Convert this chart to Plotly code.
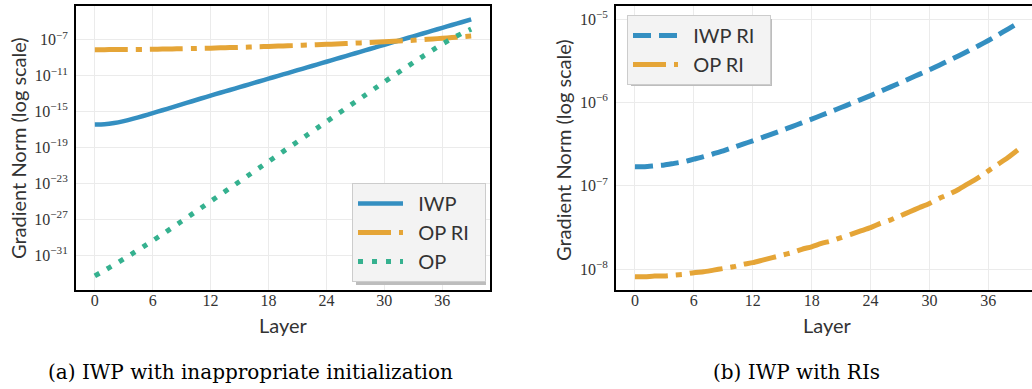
import plotly.graph_objects as go

# Layer index (0 .. 39)
layers = list(range(40))

# Gradient norms, stored as log10 values read per layer
iwp_log10 = [
    -16.44, -16.41, -16.28, -16.06, -15.79, -15.49, -15.17, -14.85, -14.52, -14.19,
    -13.87, -13.54, -13.22, -12.90, -12.59, -12.27, -11.96, -11.64, -11.33, -11.01,
    -10.70, -10.38, -10.07, -9.75, -9.44, -9.12, -8.81, -8.49, -8.18, -7.86,
    -7.55, -7.23, -6.92, -6.60, -6.29, -5.97, -5.66, -5.34, -5.03, -4.71,
]
op_ri_log10 = [
    -8.09, -8.09, -8.08, -8.08, -8.07, -8.06, -8.04, -8.03, -8.01, -7.99,
    -7.97, -7.94, -7.92, -7.89, -7.86, -7.83, -7.80, -7.76, -7.73, -7.69,
    -7.66, -7.62, -7.58, -7.54, -7.50, -7.45, -7.41, -7.36, -7.31, -7.26,
    -7.21, -7.15, -7.10, -7.04, -6.97, -6.90, -6.82, -6.74, -6.66, -6.57,
]
op_log10 = [
    -33.33, -32.72, -32.09, -31.44, -30.77, -30.09, -29.40, -28.69, -27.96, -27.23,
    -26.49, -25.75, -25.01, -24.27, -23.53, -22.79, -22.05, -21.31, -20.57, -19.83,
    -19.09, -18.35, -17.61, -16.87, -16.13, -15.39, -14.65, -13.91, -13.17, -12.43,
    -11.69, -10.96, -10.24, -9.53, -8.83, -8.14, -7.47, -6.85, -6.30, -5.80,
]
iwp_ri_log10 = [
    -6.77, -6.77, -6.76, -6.75, -6.73, -6.71, -6.68, -6.65, -6.615, -6.58,
    -6.54, -6.50, -6.46, -6.418, -6.376, -6.333, -6.289, -6.245, -6.20, -6.154,
    -6.108, -6.061, -6.014, -5.966, -5.918, -5.867, -5.816, -5.765, -5.713, -5.661,
    -5.608, -5.553, -5.497, -5.44, -5.381, -5.32, -5.257, -5.19, -5.12, -5.05,
]

iwp = [10 ** v for v in iwp_log10]
op_ri = [10 ** v for v in op_ri_log10]
op = [10 ** v for v in op_log10]
iwp_ri = [10 ** v for v in iwp_ri_log10]

# Tick labels
x_ticks = [0, 6, 12, 18, 24, 30, 36]
left_y_exps = [-31, -27, -23, -19, -15, -11, -7]
right_y_exps = [-8, -7, -6, -5]

captions = ["(a) IWP with inappropriate initialization", "(b) IWP with RIs"]

BLUE = "#348FC1"
ORANGE = "#E5A537"
GREEN = "#35B18F"
TEXT = "#333333"
GRID = "#EBEBEB"
W, H = 1032, 389


def px(x):
    return x / W


def py(y):
    return 1 - y / H


SANS = "Lato, 'DejaVu Sans', sans-serif"
SERIF = "'Liberation Serif', 'Times New Roman', serif"
CAPTION_SERIF = "'DejaVu Serif', serif"
NB = "\u00a0"


def entry(label, trail=2):
    # pad legend labels so the boxes get their roomy spacing
    return NB * 2 + label + NB * trail


fig = go.Figure()

# (a) IWP with inappropriate initialization
fig.add_trace(go.Scatter(x=layers, y=iwp, name=entry("IWP"), mode="lines",
                         line=dict(color=BLUE, width=4.5, shape="spline", smoothing=0.6),
                         xaxis="x", yaxis="y", legend="legend"))
fig.add_trace(go.Scatter(x=layers, y=op_ri, name=entry("OP RI"), mode="lines",
                         line=dict(color=ORANGE, width=5, dash="33px,8px,6px,8px",
                                   shape="spline", smoothing=0.6),
                         xaxis="x", yaxis="y", legend="legend"))
fig.add_trace(go.Scatter(x=layers, y=op, name=entry("OP"), mode="lines",
                         line=dict(color=GREEN, width=5, dash="5px,9px",
                                   shape="spline", smoothing=0.6),
                         xaxis="x", yaxis="y", legend="legend"))

# (b) IWP with RIs
fig.add_trace(go.Scatter(x=layers, y=iwp_ri, name=entry("IWP RI"), mode="lines",
                         line=dict(color=BLUE, width=5, dash="18px,8px",
                                   shape="spline", smoothing=0.6),
                         xaxis="x2", yaxis="y2", legend="legend2"))
fig.add_trace(go.Scatter(x=layers, y=op_ri, name=entry("OP RI"), mode="lines",
                         line=dict(color=ORANGE, width=5, dash="33px,8px,6px,8px",
                                   shape="spline", smoothing=0.6),
                         xaxis="x2", yaxis="y2", legend="legend2"))

axis_common = dict(
    showgrid=True, gridcolor=GRID, gridwidth=1, zeroline=False,
    ticks="", tickfont=dict(family=SERIF, size=16, color=TEXT),
    showline=True, linecolor="black", linewidth=2,
)


def sci(e):
    return "10<sup>\u2212%d</sup>" % (-e)


fig.update_layout(
    width=W, height=H,
    margin=dict(l=0, r=0, t=0, b=0),
    paper_bgcolor="white", plot_bgcolor="white",
    xaxis=dict(domain=[px(76), px(490)], range=[-1.95, 40.95],
               tickvals=x_ticks, anchor="y", mirror=True,
               ticklabelstandoff=-5, **axis_common),
    yaxis=dict(domain=[py(290), py(6)], type="log", range=[-34.9, -3.22],
               tickvals=[10.0 ** e for e in left_y_exps],
               ticktext=[sci(e) for e in left_y_exps],
               anchor="x", mirror=True, ticklabelstandoff=3, **axis_common),
    xaxis2=dict(domain=[px(616), 1.0], range=[-1.93, 40.45],
                tickvals=x_ticks, anchor="y2", mirror=True,
                ticklabelstandoff=-5, **axis_common),
    yaxis2=dict(domain=[py(290), py(6)], type="log", range=[-8.248, -4.844],
                tickvals=[10.0 ** e for e in right_y_exps],
                ticktext=[sci(e) for e in right_y_exps],
                anchor="x2", mirror=False, ticklabelstandoff=3, **axis_common),
    legend=dict(x=px(352), y=py(183), xanchor="left", yanchor="top",
                bgcolor="#F3F3F3", bordercolor="#CCCCCC", borderwidth=1,
                font=dict(family=SANS, size=20, color=TEXT),
                itemwidth=45),
    legend2=dict(x=px(627), y=py(15), xanchor="left", yanchor="top",
                 bgcolor="#F3F3F3", bordercolor="#CCCCCC", borderwidth=1,
                 font=dict(family=SANS, size=20, color=TEXT),
                 itemwidth=45),
    showlegend=True,
)

# Soft drop shadows behind the two legend boxes
for x0, y0, x1, y1 in [(356, 187, 486, 285), (631, 19, 772, 86)]:
    fig.add_shape(type="rect", xref="paper", yref="paper",
                  x0=px(x0), x1=px(x1), y0=py(y1), y1=py(y0),
                  fillcolor="#BDBDBD", line=dict(width=0), layer="above")

# Axis titles and captions
annotations = [
    dict(text="Gradient Norm (log scale)", x=px(18), y=py(148), textangle=-90),
    dict(text="Gradient Norm (log scale)", x=px(563), y=py(150), textangle=-90),
    dict(text="Layer", x=px(283), y=py(325)),
    dict(text="Layer", x=px(827), y=py(325)),
]
for a in annotations:
    fig.add_annotation(xref="paper", yref="paper", xanchor="center", yanchor="middle",
                       showarrow=False, font=dict(family=SANS, size=20, color=TEXT), **a)

for text, cx in zip(captions, [250, 796]):
    fig.add_annotation(text=text, xref="paper", yref="paper", x=px(cx), y=py(372),
                       xanchor="center", yanchor="middle", showarrow=False,
                       font=dict(family=CAPTION_SERIF, size=20, color="black"))

fig.write_html("out.html")
